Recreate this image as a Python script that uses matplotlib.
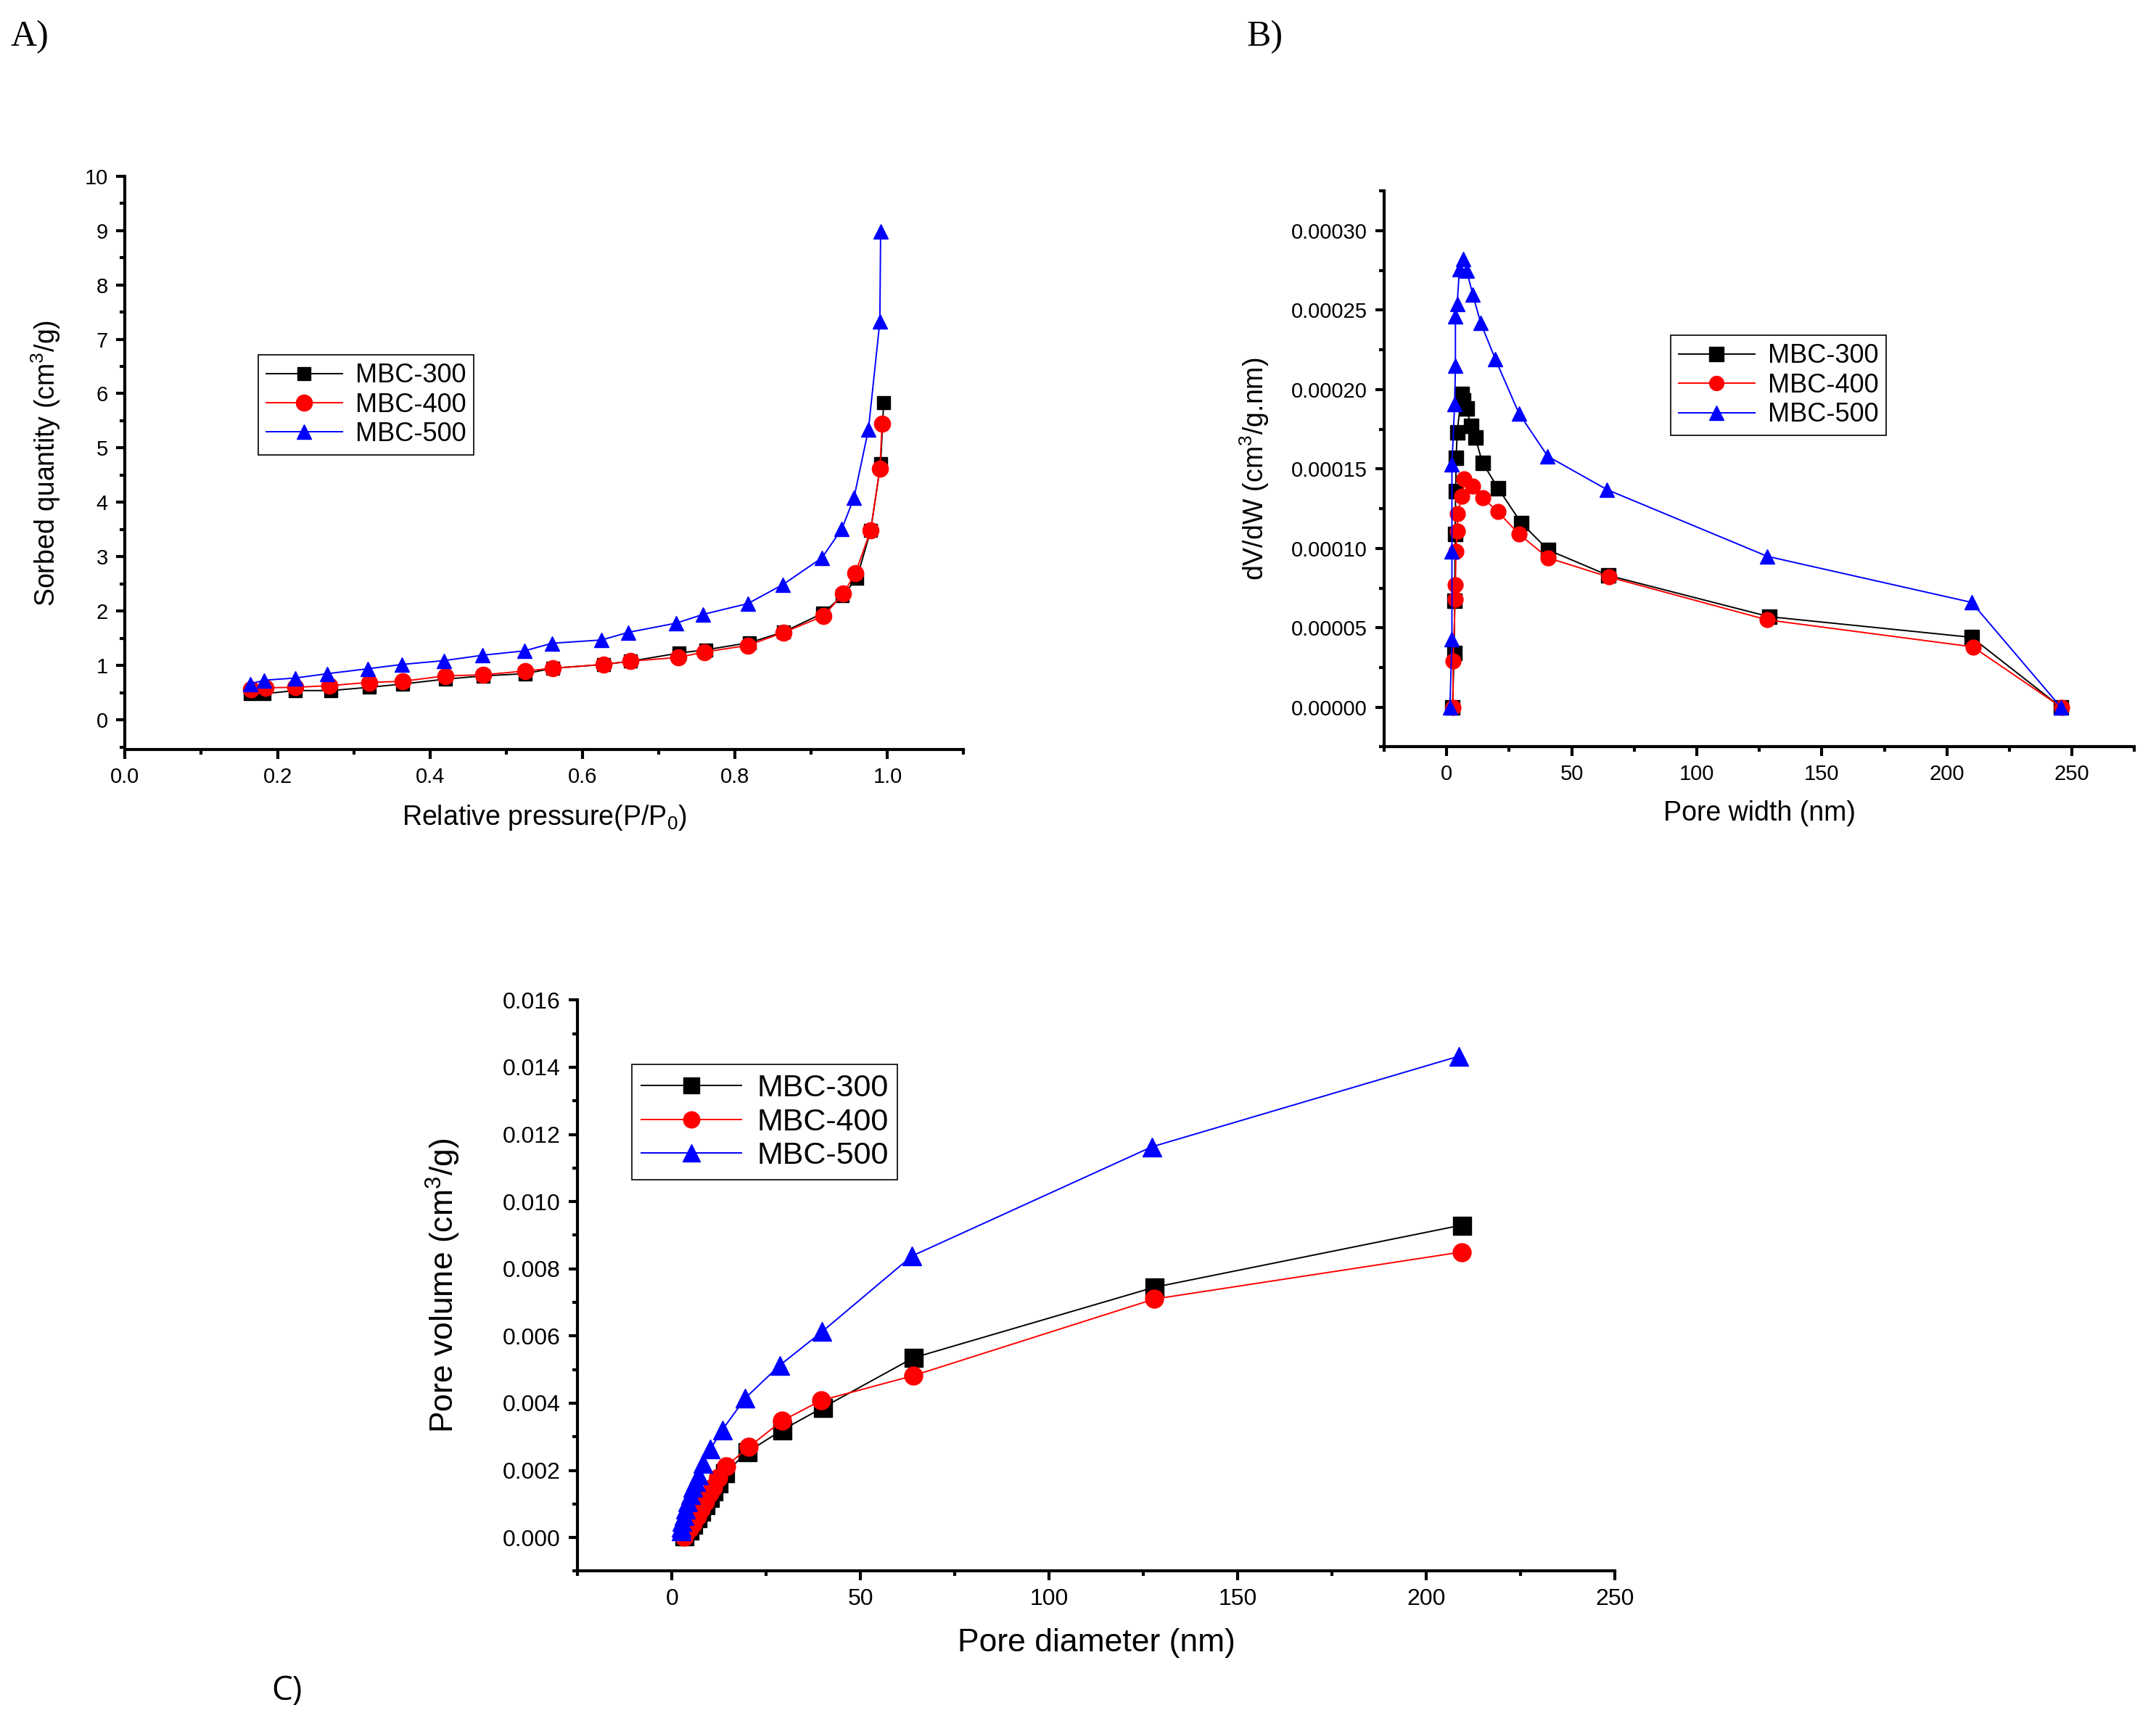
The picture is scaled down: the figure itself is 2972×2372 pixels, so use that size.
import numpy as np
import matplotlib
matplotlib.use('Agg')
import matplotlib.pyplot as plt
from matplotlib.ticker import MultipleLocator, FormatStrFormatter

plt.rcParams['font.family'] = ['Liberation Sans', 'DejaVu Sans']
plt.rcParams['mathtext.fontset'] = 'custom'
plt.rcParams['mathtext.rm'] = 'Liberation Sans'
plt.rcParams['mathtext.it'] = 'Liberation Sans'

labels = ['MBC-300', 'MBC-400', 'MBC-500']
colors = ['black', 'red', 'blue']
markers = ['s', 'o', '^']

# A) adsorption isotherms
p300 = [0.164, 0.182, 0.223, 0.27, 0.32, 0.364, 0.42, 0.47, 0.525, 0.561, 0.628, 0.663,
        0.727, 0.762, 0.819, 0.864, 0.915, 0.941, 0.96, 0.978, 0.991, 0.995]
q300 = [0.49, 0.48, 0.54, 0.54, 0.60, 0.66, 0.75, 0.81, 0.85, 0.95, 1.02, 1.08,
        1.23, 1.29, 1.42, 1.62, 1.96, 2.28, 2.61, 3.49, 4.71, 5.83]
p400 = [0.165, 0.184, 0.223, 0.268, 0.32, 0.364, 0.42, 0.47, 0.525, 0.561, 0.628, 0.663,
        0.726, 0.76, 0.817, 0.864, 0.916, 0.942, 0.958, 0.978, 0.99, 0.993]
q400 = [0.56, 0.59, 0.60, 0.63, 0.69, 0.71, 0.81, 0.83, 0.90, 0.95, 1.02, 1.08,
        1.15, 1.25, 1.37, 1.61, 1.91, 2.32, 2.70, 3.49, 4.62, 5.44]
p500 = [0.164, 0.182, 0.223, 0.265, 0.318, 0.363, 0.418, 0.469, 0.524, 0.56, 0.625, 0.66,
        0.723, 0.758, 0.817, 0.863, 0.914, 0.94, 0.956, 0.975, 0.99, 0.991]
q500 = [0.66, 0.73, 0.77, 0.85, 0.94, 1.02, 1.09, 1.19, 1.27, 1.41, 1.47, 1.61,
        1.78, 1.94, 2.14, 2.49, 2.98, 3.51, 4.08, 5.34, 7.33, 8.98]

# B) pore size distribution
w300 = [2.3, 3.0, 3.2, 3.4, 3.6, 3.8, 4.2, 5.9, 6.6, 8.0, 9.7, 11.4, 14.3, 20.5, 29.8,
        40.6, 64.6, 128.9, 209.9, 245.6]
d300 = [0.0, 3.4e-5, 6.7e-5, 1.09e-4, 1.36e-4, 1.57e-4, 1.73e-4, 1.97e-4, 1.93e-4, 1.88e-4,
        1.77e-4, 1.70e-4, 1.54e-4, 1.38e-4, 1.16e-4, 0.99e-4, 0.83e-4, 0.57e-4, 0.44e-4, 0.0]
w400 = [2.5, 2.6, 3.4, 3.5, 3.7, 4.2, 4.4, 6.1, 7.0, 10.4, 14.3, 20.5, 28.9,
        40.6, 64.8, 128.2, 210.4, 245.8]
d400 = [0.0, 2.9e-5, 6.8e-5, 7.7e-5, 9.8e-5, 1.11e-4, 1.22e-4, 1.33e-4, 1.44e-4, 1.39e-4,
        1.32e-4, 1.23e-4, 1.09e-4, 0.94e-4, 0.82e-4, 0.55e-4, 0.38e-4, 0.0]
w500 = [1.3, 2.1, 2.1, 2.1, 3.2, 3.5, 3.5, 4.2, 5.1, 6.6, 8.0, 10.4, 13.6, 19.5, 28.9,
        40.4, 64.1, 128.2, 209.9, 245.6]
d500 = [0.0, 4.3e-5, 9.8e-5, 1.53e-4, 1.91e-4, 2.15e-4, 2.46e-4, 2.54e-4, 2.76e-4, 2.82e-4,
        2.75e-4, 2.60e-4, 2.42e-4, 2.19e-4, 1.85e-4, 1.58e-4, 1.37e-4, 0.95e-4, 0.66e-4, 0.0]

# C) cumulative pore volume
x300 = [3.1, 4.5, 5.5, 6.6, 7.6, 8.7, 10.0, 10.9, 12.2, 14.0, 20.0, 29.2, 40.0, 64.0, 127.9, 209.4]
v300 = [0.05e-3, 0.22e-3, 0.39e-3, 0.58e-3, 0.77e-3, 0.97e-3, 1.20e-3, 1.38e-3, 1.62e-3,
        1.92e-3, 2.55e-3, 3.20e-3, 3.87e-3, 5.35e-3, 7.45e-3, 9.30e-3]
x400 = [3.1, 4.5, 5.5, 6.6, 7.6, 8.7, 10.0, 10.9, 12.2, 14.3, 20.4, 29.1, 39.5, 64.0, 127.9, 209.4]
v400 = [0.02e-3, 0.27e-3, 0.41e-3, 0.63e-3, 0.84e-3, 1.06e-3, 1.31e-3, 1.49e-3, 1.78e-3,
        2.12e-3, 2.70e-3, 3.47e-3, 4.08e-3, 4.82e-3, 7.10e-3, 8.50e-3]
x500 = [2.5, 2.5, 2.7, 3.1, 3.6, 4.2, 4.9, 5.5, 6.3, 7.1, 8.2, 10.2, 13.3, 19.4, 28.6,
        39.8, 63.6, 127.2, 208.7]
v500 = [0.19e-3, 0.30e-3, 0.48e-3, 0.66e-3, 0.84e-3, 1.06e-3, 1.27e-3, 1.49e-3, 1.67e-3,
        1.86e-3, 2.21e-3, 2.64e-3, 3.20e-3, 4.15e-3, 5.13e-3, 6.13e-3, 8.38e-3, 11.63e-3, 14.33e-3]


def style_axes(ax, tick_size):
    ax.spines['top'].set_visible(False)
    ax.spines['right'].set_visible(False)
    ax.spines['left'].set_linewidth(3)
    ax.spines['bottom'].set_linewidth(3)
    ax.tick_params(which='major', direction='out', length=9, width=3, labelsize=tick_size, pad=8)
    ax.tick_params(which='minor', direction='out', length=5, width=3)


def add_legend(ax, anchor, size, hlen, mscale):
    leg = ax.legend(loc='upper left', bbox_to_anchor=anchor, fontsize=size, frameon=True,
                    fancybox=False, edgecolor='black', framealpha=1, handlelength=hlen,
                    borderpad=0.3, labelspacing=0.15, handletextpad=0.5, borderaxespad=0,
                    markerscale=mscale)
    leg.get_frame().set_linewidth(1.2)


fig = plt.figure(figsize=(29.72, 23.72), dpi=100)

# ---- A ----
axA = fig.add_axes([0.058, 0.5643, 0.389, 0.3334])
sizes = [13, 16, 15]
for x, y, lab, c, m, s in zip([p300, p400, p500], [q300, q400, q500], labels, colors, markers, sizes):
    axA.plot(x, y, color=c, marker=m, markersize=s, lw=1.4, label=lab, mec=c, mfc=c)
axA.set_xlim(0, 1.1)
axA.set_ylim(-0.55, 10)
axA.xaxis.set_major_locator(MultipleLocator(0.2))
axA.xaxis.set_minor_locator(MultipleLocator(0.1))
axA.yaxis.set_major_locator(MultipleLocator(1))
axA.yaxis.set_minor_locator(MultipleLocator(0.5))
axA.xaxis.set_major_formatter(FormatStrFormatter('%.1f'))
style_axes(axA, 21)
axA.set_xlabel('Relative pressure(P/P$_0$)', fontsize=27, labelpad=16)
axA.set_ylabel('Sorbed quantity (cm$^3$/g)', fontsize=27, labelpad=22)
add_legend(axA, (0.159, 0.688), 26, 2.9, 1.0)

# ---- B ----
axB = fig.add_axes([0.642, 0.566, 0.348, 0.323])
sizes = [15, 15, 15]
for x, y, lab, c, m, s in zip([w300, w400, w500], [d300, d400, d500], labels, colors, markers, sizes):
    axB.plot(x, y, color=c, marker=m, markersize=s, lw=1.4, label=lab, mec=c, mfc=c)
axB.set_xlim(-25, 275)
axB.set_ylim(-0.000025, 0.000325)
axB.xaxis.set_major_locator(MultipleLocator(50))
axB.xaxis.set_minor_locator(MultipleLocator(25))
axB.yaxis.set_major_locator(MultipleLocator(0.00005))
axB.yaxis.set_minor_locator(MultipleLocator(0.000025))
axB.yaxis.set_major_formatter(FormatStrFormatter('%.5f'))
style_axes(axB, 21)
axB.set_xlabel('Pore width (nm)', fontsize=27, labelpad=16)
axB.set_ylabel('dV/dW (cm$^3$/g.nm)', fontsize=27, labelpad=20)
add_legend(axB, (0.382, 0.740), 26, 2.9, 0.95)

# ---- C ----
axC = fig.add_axes([0.268, 0.0871, 0.481, 0.3318])
sizes = [18, 18, 19]
for x, y, lab, c, m, s in zip([x300, x400, x500], [v300, v400, v500], labels, colors, markers, sizes):
    axC.plot(x, y, color=c, marker=m, markersize=s, lw=1.4, label=lab, mec=c, mfc=c)
axC.set_xlim(-25, 250)
axC.set_ylim(-0.001, 0.016)
axC.xaxis.set_major_locator(MultipleLocator(50))
axC.xaxis.set_minor_locator(MultipleLocator(25))
axC.yaxis.set_major_locator(MultipleLocator(0.002))
axC.yaxis.set_minor_locator(MultipleLocator(0.001))
axC.yaxis.set_major_formatter(FormatStrFormatter('%.3f'))
style_axes(axC, 23)
axC.set_xlabel('Pore diameter (nm)', fontsize=32, labelpad=18)
axC.set_ylabel('Pore volume (cm$^3$/g)', fontsize=32, labelpad=40)
add_legend(axC, (0.052, 0.887), 31, 3.2, 0.9)

# panel letters
fig.text(0.005, 0.9734, 'A)', fontsize=36, family='Liberation Serif', va='baseline')
fig.text(0.5784, 0.9734, 'B)', fontsize=36, family='Liberation Serif', va='baseline')
fig.text(0.126, 0.0122, 'C)', fontsize=33, family='Open Sans', va='baseline')

fig.savefig('out.png', dpi=100)
